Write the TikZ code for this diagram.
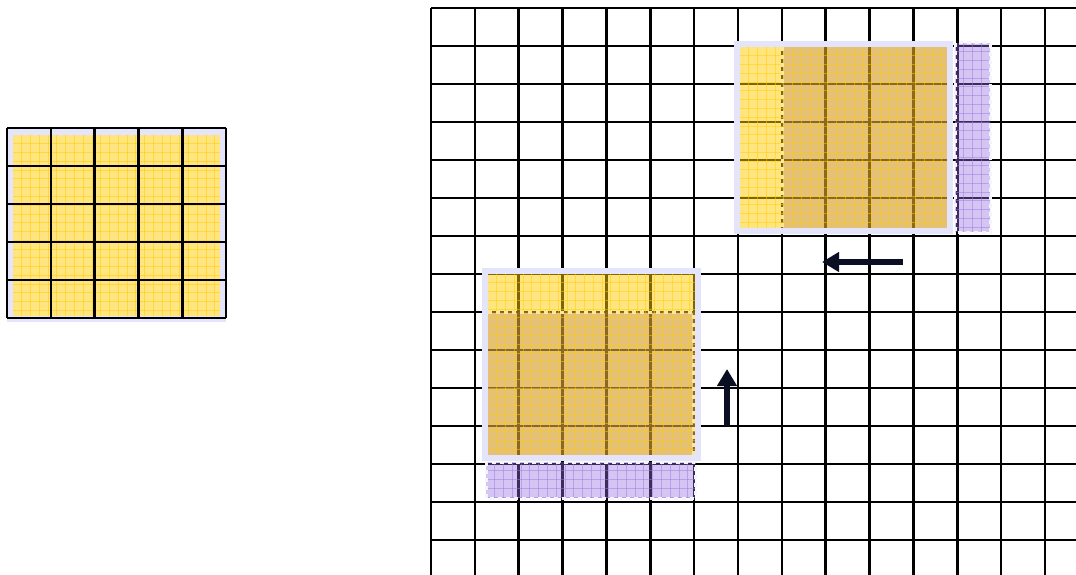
\documentclass[tikz,border=0pt]{standalone}
\usetikzlibrary{arrows.meta}
\definecolor{lav}{RGB}{228,228,250}
\definecolor{gold}{RGB}{255,204,0}
\definecolor{tanov}{RGB}{170,110,100}
\definecolor{purp}{RGB}{150,110,225}
\definecolor{purline}{RGB}{160,120,230}
\definecolor{arrowc}{RGB}{10,15,35}
\definecolor{tandash}{RGB}{250,232,160}
\tikzset{
  gridline/.style={black,line width=2.6pt},
  lavframe/.style={draw=lav,line width=6pt},
  yfill/.style={fill=gold,fill opacity=0.5},
  tfill/.style={fill=tanov,fill opacity=0.3},
  pfill/.style={fill=purp,fill opacity=0.4},
  tborder/.style={draw=tandash,line width=3pt,dash pattern=on 4pt off 4pt},
  pborder/.style={draw=lav!40!white,line width=3pt,dash pattern=on 4pt off 4pt},
  yfine/.style={draw=gold,line width=0.8pt,draw opacity=0.5},
  pfine/.style={draw=purline,line width=0.8pt,draw opacity=0.5},
  movearrow/.style={draw=arrowc,line width=6pt,-{Triangle[width=19pt,length=17pt]}},
}
\newcommand{\fgrid}[5]{%
  \begin{scope}
    \clip (#1,#2) rectangle (#3,#4);
    \foreach \i in {1,...,28}{%
      \draw[#5] ({#1+\i*8.77},#2) -- ({#1+\i*8.77},#4);
      \draw[#5] (#1,{#2+\i*8.77}) -- (#3,{#2+\i*8.77});
    }
  \end{scope}}
\begin{document}
\begin{tikzpicture}[x=1pt,y=-1pt]
\useasboundingbox (0,0) rectangle (1076,575);
\clip (0,0) rectangle (1076,575);

% ---------- left grid ----------
\fill[lav] (7,128) rectangle (226,322);
\fill[white] (13,135) rectangle (220,316);
\fill[yfill] (13,135) rectangle (220,316);
\fgrid{13}{135}{220}{316}{yfine}
\foreach \k in {0,...,5}{%
  \draw[gridline] ({7+\k*43.8},128) -- ({7+\k*43.8},318);
  \draw[gridline] (7,{128+\k*38}) -- (226,{128+\k*38});
}

% ---------- big grid ----------
\foreach \k in {0,...,15}{%
  \draw[gridline] ({431+\k*43.86},8) -- ({431+\k*43.86},590);
  \draw[gridline] (431,{8+\k*38}) -- (1090,{8+\k*38});
}

% ---------- top-right window ----------
\fill[yfill] (740,47) rectangle (947,228);
\fill[tfill] (782,47) rectangle (947,228);
\fgrid{740}{47}{947}{228}{yfine}
\draw[tborder] (782,47) -- (782,228);
\draw[lavframe] (737,44) rectangle (950,231);
\fill[pfill] (955,43) rectangle (990,232);
\fgrid{955}{43}{990}{232}{pfine}
\draw[pborder] (955,43) rectangle (990,232);

% ---------- bottom-left window ----------
\fill[yfill] (488,274) rectangle (695,455);
\fill[tfill] (488,312) rectangle (695,455);
\fgrid{488}{274}{695}{455}{yfine}
\draw[tborder] (488,312) -- (693,312) -- (693,455);
\draw[lavframe] (485,271) rectangle (698,458);
\fill[pfill] (486,462) rectangle (695,498);
\fgrid{486}{462}{695}{498}{pfine}
\draw[pborder] (486,462) rectangle (695,498);

% ---------- arrows ----------
\coordinate (la1) at (903,262);
\coordinate (la2) at (822,262);
\draw[movearrow] (la1) -- (la2);
\coordinate (ua1) at (727,426);
\coordinate (ua2) at (727,369);
\draw[movearrow] (ua1) -- (ua2);
\end{tikzpicture}
\end{document}
